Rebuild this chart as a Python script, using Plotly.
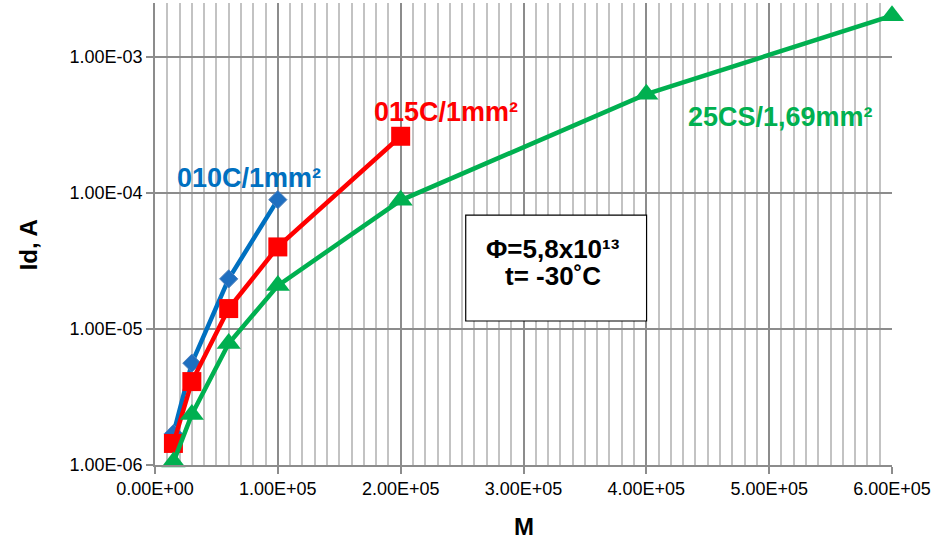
import plotly.graph_objects as go

# ---- data ----
m_010 = [1.5e4, 3e4, 6e4, 1e5]
id_010 = [1.7e-6, 5.6e-6, 2.33e-5, 8.9e-5]

m_015 = [1.5e4, 3e4, 6e4, 1e5, 2e5]
id_015 = [1.44e-6, 4.1e-6, 1.41e-5, 4.0e-5, 2.6e-4]

m_25 = [1.5e4, 3e4, 6e4, 1e5, 2e5, 4e5, 6e5]
id_25 = [1.05e-6, 2.35e-6, 7.8e-6, 2.08e-5, 8.8e-5, 5.3e-4, 2.0e-3]

x_tickvals = [0, 1e5, 2e5, 3e5, 4e5, 5e5, 6e5]
x_ticktext = ["0.00E+00", "1.00E+05", "2.00E+05", "3.00E+05", "4.00E+05", "5.00E+05", "6.00E+05"]
y_tickvals = [1e-6, 1e-5, 1e-4, 1e-3]
y_ticktext = ["1.00E-06", "1.00E-05", "1.00E-04", "1.00E-03"]

BLUE = "#0070C0"
RED = "#FF0000"
GREEN = "#00B050"
FONT = "Liberation Sans"

fig = go.Figure()
fig.add_trace(go.Scatter(x=m_010, y=id_010, mode="lines+markers", name="010C",
                         line=dict(color=BLUE, width=4.5),
                         marker=dict(symbol="diamond", size=14, color="#1F6FC0",
                                     line=dict(color="#4F81BD", width=1)),
                         cliponaxis=False))
fig.add_trace(go.Scatter(x=m_015, y=id_015, mode="lines+markers", name="015C",
                         line=dict(color=RED, width=4.5),
                         marker=dict(symbol="square", size=19, color=RED),
                         cliponaxis=False))
fig.add_trace(go.Scatter(x=m_25, y=id_25, mode="lines+markers", name="25CS",
                         line=dict(color=GREEN, width=4.5),
                         marker=dict(symbol="triangle-up", size=21, color=GREEN),
                         cliponaxis=False))

fig.update_layout(
    width=933, height=544,
    margin=dict(l=155, r=41, t=3, b=79),
    paper_bgcolor="white", plot_bgcolor="white",
    showlegend=False,
    font=dict(family=FONT, color="black", size=18),
    xaxis=dict(range=[0, 6e5], tickvals=x_tickvals, ticktext=x_ticktext,
               showgrid=True, gridcolor="#8C8C8C", gridwidth=1.5,
               minor=dict(dtick=1e4, tick0=0, showgrid=True, gridcolor="#C3C3C3", gridwidth=1.5),
               showline=True, linecolor="#8C8C8C", linewidth=1.5,
               ticks="outside", ticklen=7, tickcolor="#8C8C8C", tickwidth=1.5,
               zeroline=False, tickfont=dict(size=18, family=FONT)),
    yaxis=dict(type="log", range=[-6, -2.606], tickvals=y_tickvals, ticktext=y_ticktext,
               showgrid=True, gridcolor="#8C8C8C", gridwidth=1.5,
               showline=True, linecolor="#8C8C8C", linewidth=1.5,
               ticks="outside", ticklen=7, tickcolor="#8C8C8C", tickwidth=1.5,
               zeroline=False, tickfont=dict(size=18, family=FONT)),
)

# axis titles
fig.add_annotation(text="<b>Id, A</b>", xref="paper", yref="paper", x=-0.172, y=0.476,
                   xanchor="center", yanchor="middle",
                   showarrow=False, textangle=-90, font=dict(size=24, family=FONT, color="black"))
fig.add_annotation(text="<b>M</b>", xref="paper", yref="paper", x=0.5, y=-0.134,
                   xanchor="center", yanchor="middle",
                   showarrow=False, font=dict(size=24, family=FONT, color="black"))

# series labels
fig.add_annotation(text="<b>010C/1mm²</b>", x=7.63e4, y=-3.892, showarrow=False,
                   xanchor="center", yanchor="middle",
                   font=dict(size=27, family=FONT, color=BLUE))
fig.add_annotation(text="<b>015C/1mm²</b>", x=2.372e5, y=-3.406, showarrow=False,
                   xanchor="center", yanchor="middle",
                   font=dict(size=27, family=FONT, color=RED))
fig.add_annotation(text="<b>25CS/1,69mm²</b>", x=5.09e5, y=-3.442, showarrow=False,
                   xanchor="center", yanchor="middle",
                   font=dict(size=27, family=FONT, color=GREEN))

# info box
fig.add_shape(type="rect", xref="paper", yref="paper", x0=0.4216, x1=0.667, y0=0.3117, y1=0.541,
              fillcolor="white", line=dict(color="black", width=1.2), layer="above")
fig.add_annotation(text="<b>Φ=5,8x10¹³</b>", xref="paper", yref="paper", x=0.5395, y=0.4675,
                   xanchor="center", yanchor="middle",
                   showarrow=False, font=dict(size=26, family=FONT, color="black"))
fig.add_annotation(text="<b>t= -30˚C</b>", xref="paper", yref="paper", x=0.5395, y=0.409,
                   xanchor="center", yanchor="middle",
                   showarrow=False, font=dict(size=26, family=FONT, color="black"))

fig.write_html("out.html", config={"displayModeBar": False},
               post_script="document.body.style.margin='0';document.body.style.overflow='hidden';")
